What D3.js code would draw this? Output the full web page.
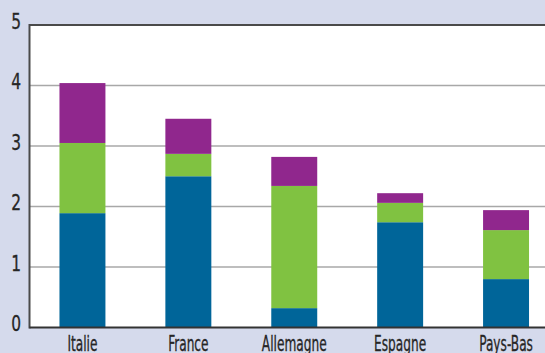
<!DOCTYPE html>
<html>
<head>
<meta charset="utf-8">
<script src="https://cdn.jsdelivr.net/npm/d3@7"></script>
<style>
  html, body { margin: 0; padding: 0; background: #d5daec; }
  svg { display: block; }
  text { font-family: "DejaVu Sans Condensed", "Liberation Sans Narrow", sans-serif; fill: #262626; }
</style>
</head>
<body>
<svg id="chart" width="545" height="353"></svg>
<script>
// Categories and stacked series (three components per country)
const countries = ["Italie", "France", "Allemagne", "Espagne", "Pays-Bas"];
const serieBleue = [1.89, 2.50, 0.32, 1.74, 0.80];
const serieVerte = [1.16, 0.37, 2.02, 0.32, 0.81];
const serieViolette = [0.99, 0.58, 0.48, 0.16, 0.33];
const yTicks = [0, 1, 2, 3, 4, 5];
const seriesKeys = ["bleu", "vert", "violet"];
const seriesColors = { bleu: "#006599", vert: "#80c241", violet: "#90278d" };

const rows = countries.map((c, i) => ({
  pays: c, bleu: serieBleue[i], vert: serieVerte[i], violet: serieViolette[i]
}));

const svg = d3.select("#chart");
const W = 545, H = 353;
const mLeft = 29.5, mTop = 25, mBottom = 327.5, mRight = 559;
const squeezeX = 0.66; // horizontal condensing of the category labels
const squeezeY = 0.78; // horizontal condensing of the value labels

const x = d3.scaleBand().domain(countries).range([mLeft, mRight])
  .paddingInner(0.566).paddingOuter(0.283);
const y = d3.scaleLinear().domain([0, 5]).range([mBottom, mTop]);

// plot background
svg.append("rect").attr("x", mLeft).attr("y", mTop)
  .attr("width", W - mLeft + 5).attr("height", mBottom - mTop).attr("fill", "#ffffff");

// horizontal gridlines
svg.append("g").selectAll("line").data(yTicks.filter(t => t > 0 && t < 5)).join("line")
  .attr("x1", mLeft).attr("x2", W + 5)
  .attr("y1", d => y(d)).attr("y2", d => y(d))
  .attr("stroke", "#a8a8a8").attr("stroke-width", 1.5);

// stacked bars
const stack = d3.stack().keys(seriesKeys)(rows);
svg.append("g").selectAll("g").data(stack).join("g")
  .attr("fill", d => seriesColors[d.key])
  .selectAll("rect").data(d => d).join("rect")
  .attr("x", d => x(d.data.pays))
  .attr("width", x.bandwidth())
  .attr("y", d => y(d[1]))
  .attr("height", d => y(d[0]) - y(d[1]));

// frame: top, left and baseline
svg.append("line").attr("x1", mLeft).attr("x2", W + 5).attr("y1", mTop).attr("y2", mTop)
  .attr("stroke", "#4a4a4a").attr("stroke-width", 2);
svg.append("line").attr("x1", mLeft).attr("x2", mLeft).attr("y1", mTop - 1).attr("y2", mBottom + 1)
  .attr("stroke", "#4a4a4a").attr("stroke-width", 2);
svg.append("line").attr("x1", mLeft).attr("x2", W + 5).attr("y1", mBottom).attr("y2", mBottom)
  .attr("stroke", "#333333").attr("stroke-width", 2);

// y axis labels
const yAxis = d3.axisLeft(y).tickValues(yTicks).tickSize(0).tickPadding(0).tickFormat(d3.format("d"));
const gy = svg.append("g").attr("transform", `translate(${mLeft},0)`).call(yAxis);
gy.select(".domain").remove();
gy.selectAll("text")
  .attr("font-size", 22).attr("fill", "#262626")
  .attr("stroke", "#262626").attr("stroke-width", 0.3)
  .attr("x", -8.5 / squeezeY).attr("dy", "0.2em")
  .attr("transform", `translate(0,-1) scale(${squeezeY},1)`)
  .style("font-family", '"DejaVu Sans Condensed", sans-serif');

// x axis labels
const xAxis = d3.axisBottom(x).tickSize(0).tickPadding(0);
const gx = svg.append("g").attr("transform", `translate(0,${mBottom})`).call(xAxis);
gx.select(".domain").remove();
gx.selectAll("text")
  .attr("font-size", 20.5).attr("fill", "#262626")
  .attr("stroke", "#262626").attr("stroke-width", 0.3)
  .attr("y", 24).attr("dy", 0)
  .attr("transform", `scale(${squeezeX},1)`)
  .style("font-family", '"DejaVu Sans Condensed", sans-serif');
</script>
</body>
</html>
